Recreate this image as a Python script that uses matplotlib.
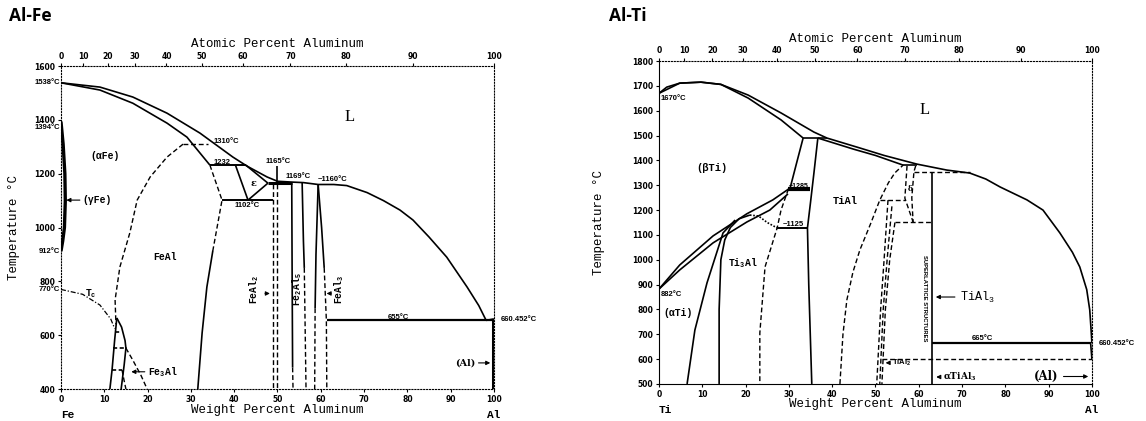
import numpy as np
import matplotlib.pyplot as plt

M_AL, M_FE, M_TI = 26.982, 55.845, 47.867

# ---- Al-Fe boundaries, (weight % Al, temperature C) ----
fe_liquidus = [(0, 1538), (9, 1522), (16.6, 1485), (24.5, 1425), (32.1, 1351), (39.7, 1262),
               (43, 1228), (47.6, 1188), (50, 1172), (53.3, 1169), (56, 1167), (59.4, 1160),
               (63, 1160), (66, 1156), (70.7, 1130), (74.5, 1100), (78.3, 1065), (81.3, 1028),
               (85, 965), (89.1, 890), (93.8, 779), (96.5, 710), (98.2, 655)]
fe_liquidus_al = [(98.2, 655), (100, 660.5)]
fe_alpha_solidus = [(0, 1538), (9, 1511), (16.6, 1462), (24.5, 1388), (29.1, 1336), (34.4, 1232)]
fe_1232 = [(34.4, 1232), (42.7, 1232)]
fe_eps_solidus = [(42.7, 1232), (47.8, 1165)]
fe_eps_left = [(40.3, 1232), (43.2, 1102)]
fe_eps_right = [(43.2, 1102), (47.8, 1165)]
fe_1165 = [(47.8, 1165), (53.3, 1165)]
fe_1165_tick = [(50.0, 1165), (50.0, 1228)]
fe_1102 = [(37.2, 1102), (48.9, 1102)]
fe_feal_dashed = [(34.4, 1232), (37.2, 1102), (35.1, 916)]
fe_feal_solid = [(35.1, 916), (33.7, 779), (32.6, 608), (31.6, 400)]
fe_feal2_a = [(48.9, 1160), (48.9, 400)]
fe_feal2_b = [(49.8, 1160), (49.8, 400)]
fe_fe2al5_left = [(53.3, 1169), (53.4, 800), (53.5, 480)]
fe_fe2al5_left_low = [(53.5, 480), (53.6, 400)]
fe_fe2al5_right = [(55.7, 1169), (56.0, 950), (56.2, 850)]
fe_fe2al5_right_low = [(56.2, 850), (56.6, 400)]
fe_feal3_left = [(59.4, 1160), (58.9, 900), (58.7, 700)]
fe_feal3_left_low = [(58.7, 700), (58.6, 400)]
fe_feal3_right = [(59.4, 1160), (60.2, 1000), (60.8, 850)]
fe_feal3_right_low = [(60.8, 850), (61.3, 655), (61.4, 400)]
fe_655 = [(61.4, 655), (100, 655)]
fe_al_solvus = [(99.9, 660), (99.9, 400)]
fe_gamma_loop = [(0, 1394), (0.5, 1310), (0.9, 1200), (1.0, 1100), (0.8, 1000), (0.4, 950), (0, 912)]
fe_b2_order = [(28.2, 1310), (24.5, 1262), (20.6, 1188), (17.6, 1102), (15.9, 980),
               (13.6, 853), (12.5, 731), (12.7, 640)]
fe_1310 = [(28.2, 1310), (34.0, 1310)]
fe_tc = [(0, 770), (5, 752), (9, 712), (11.5, 660), (12.4, 625)]
fe3al_left = [(11.3, 400), (11.8, 471), (12.4, 582), (12.9, 664)]
fe3al_right = [(12.9, 664), (14.0, 630), (14.8, 580), (15.0, 552), (14.6, 490), (13.9, 400)]
fe3al_tie_t = [612, 552, 471]
fe3al_tie_w0 = [12.5, 12.0, 11.8]
fe3al_tie_w1 = [13.9, 15.2, 14.1]
fe3al_solvus_a = [(15.0, 552), (16.5, 510), (18.5, 450), (19.9, 400)]
fe3al_solvus_b = [(14.1, 471), (14.6, 430), (15.0, 400)]

# ---- Al-Ti boundaries, (weight % Al, temperature C) ----
ti_liquidus = [(0, 1670), (1.8, 1695), (4.8, 1711), (9.7, 1715), (14.3, 1706), (20.6, 1663),
               (28.2, 1591), (35.8, 1514), (38.8, 1490), (46.4, 1450), (52, 1420), (59.6, 1385),
               (66.5, 1361), (71.8, 1349), (75.5, 1325), (78.8, 1293), (85.0, 1241), (88.7, 1200),
               (92.6, 1108), (95.5, 1030), (97.2, 971), (98.8, 880), (99.5, 798), (99.8, 720),
               (100, 665)]
ti_beta_solidus = [(0, 1670), (4.8, 1711), (9.7, 1715), (14.3, 1706), (20.6, 1651), (28.2, 1563),
                   (33.3, 1490)]
ti_1490 = [(33.3, 1490), (38.8, 1490)]
ti_tial_solidus = [(36.7, 1490), (45, 1445), (50, 1420), (56.4, 1381)]
ti_delta_top = [(56.4, 1381), (59.6, 1381)]
ti_delta_left = [(57.3, 1378), (56.8, 1248), (58.7, 1152)]
ti_delta_right = [(59.3, 1378), (58.9, 1355), (58.4, 1250), (58.7, 1152)]
ti_1350 = [(58.9, 1352), (71.8, 1352)]
ti_tial3 = [(63, 1352), (63, 500)]
ti_1240 = [(51.0, 1240), (56.8, 1240)]
ti_1150 = [(54.5, 1150), (63, 1150)]
ti_tial_right = [(41.8, 500), (42.5, 700), (43.4, 838), (44.8, 950), (46.4, 1039), (49, 1150),
                 (51.0, 1240), (53, 1310), (54.5, 1350), (56.4, 1381)]
ti_tial2_a = [(52.9, 1240), (52.0, 1000), (51.2, 800), (50.3, 500)]
ti_tial2_b = [(53.8, 1215), (52.7, 1000), (51.8, 800), (51.0, 500)]
ti_tial2_c = [(54.5, 1150), (53.3, 1000), (52.3, 800), (51.5, 500)]
ti_600 = [(51.5, 600), (100, 600)]
ti_665 = [(63, 665), (99.7, 665)]
ti_al_solvus = [(99.7, 665), (100, 600)]
ti_beta_transus = [(0, 882), (4.8, 979), (12.5, 1096), (20.3, 1185), (26.3, 1241), (30.3, 1289),
                   (31.8, 1390), (33.3, 1490)]
ti_alpha_transus = [(0, 882), (4.8, 959), (12.5, 1068), (20.3, 1152), (25.6, 1200), (29.8, 1265)]
ti_1285 = [(29.8, 1285), (34.8, 1285)]
ti_tial_left = [(36.7, 1490), (35.8, 1350), (35.0, 1230), (34.3, 1128), (34.6, 900), (35.3, 500)]
ti_1125 = [(27.3, 1128), (34.3, 1128)]
ti_alpha2_left = [(13.9, 500), (13.9, 800), (14.3, 1000), (15.2, 1080), (16.5, 1130),
                  (18.5, 1165), (21, 1180)]
ti_alpha2_top = [(21, 1180), (23, 1176), (25, 1150), (27.3, 1128)]
ti_alpha_alpha2 = [(6.5, 500), (8.3, 717), (11.1, 907), (14.8, 1108), (17.6, 1160)]
ti_alpha2_right = [(29.9, 1285), (28.2, 1200), (27.3, 1128), (24.5, 971), (23.3, 705), (23.3, 500)]

xticks = list(range(0, 101, 10))
fe_yticks = list(range(400, 1601, 200))
ti_yticks = list(range(500, 1801, 100))

DASH = (0, (3.5, 2))
MONO = 'Liberation Mono'
SANS = 'Liberation Sans'


def wt_to_at(w, m_other):
    w = np.clip(np.asarray(w, dtype=float), 0, 100)
    na = w / M_AL
    return 100 * na / (na + (100 - w) / m_other + 1e-12)


def at_to_wt(a, m_other):
    a = np.clip(np.asarray(a, dtype=float), 0, 100)
    ma = a * M_AL
    return 100 * ma / (ma + (100 - a) * m_other + 1e-12)


def draw(ax, pts, ls='-', lw=1.2):
    x, y = zip(*pts)
    ax.plot(x, y, color='black', ls=ls, lw=lw, solid_capstyle='butt')


def label(ax, x, y, s, size=6.5, **kw):
    kw.setdefault('family', MONO)
    kw.setdefault('weight', 'bold')
    ax.text(x, y, s, fontsize=size, ha=kw.pop('ha', 'center'), va=kw.pop('va', 'center'), **kw)


def arrow(ax, x0, x1, y):
    ax.annotate('', xy=(x1, y), xytext=(x0, y),
                arrowprops=dict(arrowstyle='-|>', color='black', lw=0.8, mutation_scale=6))


def setup_axes(ax, m_other, ylim, yticks, left_name, ylabel_x):
    ax.set_xlim(0, 100)
    ax.set_ylim(*ylim)
    ax.set_xticks(xticks)
    ax.set_yticks(yticks)
    ax.tick_params(direction='out', length=2, width=0.8, pad=2, labelsize=5.5)
    for t in ax.get_xticklabels() + ax.get_yticklabels():
        t.set_fontweight('bold')
    ax.spines['top'].set_visible(False)
    sec = ax.secondary_xaxis('top', functions=(lambda w: wt_to_at(w, m_other),
                                               lambda a: at_to_wt(a, m_other)))
    sec.set_xticks(xticks)
    sec.tick_params(direction='out', length=2, width=0.8, pad=2, labelsize=5.5)
    for t in sec.get_xticklabels():
        t.set_fontweight('bold')
    sec.spines['top'].set_linestyle(':')
    ax.text(0.5, 1.068, 'Atomic Percent Aluminum', transform=ax.transAxes,
            ha='center', va='center', family=MONO, fontsize=9)
    ax.set_xlabel('Weight Percent Aluminum', family=MONO, fontsize=9)
    ax.xaxis.set_label_coords(0.5, -0.045)
    ax.set_ylabel('Temperature °C', family=MONO, fontsize=9)
    ax.yaxis.set_label_coords(ylabel_x, 0.5)
    tr = ax.get_xaxis_transform()
    ax.text(1.5, -0.08, left_name, transform=tr, ha='center', va='center',
            family=MONO, weight='bold', fontsize=8)
    ax.text(100, -0.08, 'Al', transform=tr, ha='center', va='center',
            family=MONO, weight='bold', fontsize=8)


fig = plt.figure(figsize=(11.46, 4.21), dpi=100)
fig.text(0.008, 0.962, 'Al-Fe', family='Open Sans', weight='bold', fontsize=12.5, va='center')
fig.text(0.531, 0.962, 'Al-Ti', family='Open Sans', weight='bold', fontsize=12.5, va='center')

# ================= Al-Fe =================
ax1 = fig.add_axes([0.0532, 0.076, 0.3778, 0.767])
setup_axes(ax1, M_FE, (400, 1600), fe_yticks, 'Fe', -0.095)
for s in ['left', 'right', 'bottom']:
    ax1.spines[s].set_linestyle(':')

for pts in [fe_liquidus, fe_liquidus_al, fe_alpha_solidus, fe_eps_solidus, fe_eps_left,
            fe_eps_right, fe_feal_solid, fe_fe2al5_left, fe_fe2al5_right, fe_feal3_left,
            fe_feal3_right, fe3al_left, fe3al_right, fe_1165_tick]:
    draw(ax1, pts)
for pts in [fe_1232, fe_1102]:
    draw(ax1, pts, lw=1.4)
draw(ax1, fe_1165, lw=2.2)
draw(ax1, fe_655, lw=1.6)
draw(ax1, fe_al_solvus, lw=2.2)
draw(ax1, fe_gamma_loop, lw=2.4)
for pts in [fe_feal_dashed, fe_feal2_a, fe_feal2_b, fe_fe2al5_left_low, fe_fe2al5_right_low,
            fe_feal3_left_low, fe_feal3_right_low, fe_b2_order, fe_1310, fe3al_solvus_a,
            fe3al_solvus_b]:
    draw(ax1, pts, ls=DASH, lw=1.0)
draw(ax1, fe_tc, ls=(0, (4, 1.5, 1, 1.5)), lw=0.9)
for t, w0, w1 in zip(fe3al_tie_t, fe3al_tie_w0, fe3al_tie_w1):
    draw(ax1, [(w0, t), (w1, t)], ls=(0, (2.5, 1.5)), lw=1.2)

kw = dict(family=SANS, size=5.5, ha='right')
label(ax1, -0.3, 1538, '1538°C', **kw)
label(ax1, -0.3, 1372, '1394°C', **kw)
label(ax1, -0.3, 912, '912°C', **kw)
label(ax1, -0.3, 770, '770°C', **kw)
kw = dict(family=SANS, size=5.5)
label(ax1, 38.2, 1318, '1310°C', **kw)
label(ax1, 37.2, 1242, '1232', **kw)
label(ax1, 50.2, 1245, '1165°C', **kw)
label(ax1, 54.8, 1188, '1169°C', **kw)
label(ax1, 62.8, 1178, '~1160°C', **kw)
label(ax1, 42.9, 1083, '1102°C', **kw)
label(ax1, 78.0, 666, '655°C', **kw)
label(ax1, 101.5, 658, '660.452°C', ha='left', family=SANS, size=5.5)
label(ax1, 10.2, 1265, '(αFe)', size=7)
label(ax1, 24.0, 890, 'FeAl', size=7)
label(ax1, 44.5, 1162, 'ε', size=7, family='DejaVu Serif')
label(ax1, 66.7, 1410, 'L', size=12, family='Liberation Serif', weight='normal')
label(ax1, 4.9, 1102, '(γFe)', size=7, ha='left')
arrow(ax1, 5.0, 0.6, 1102)
label(ax1, 7.0, 756, 'T$_\\mathregular{c}$', size=7)
label(ax1, 20.0, 464, 'Fe$_\\mathregular{3}$Al', size=7, ha='left')
arrow(ax1, 20.0, 15.6, 464)
label(ax1, 44.5, 770, 'FeAl$_\\mathregular{2}$', size=7, rotation=90)
arrow(ax1, 46.5, 48.9, 755)
label(ax1, 54.6, 770, 'Fe$_\\mathregular{2}$Al$_\\mathregular{5}$', size=7, rotation=90)
label(ax1, 64.2, 770, 'FeAl$_\\mathregular{3}$', size=7, rotation=90)
arrow(ax1, 63.0, 60.7, 755)
label(ax1, 93.3, 497, '(Al)', size=7, family='DejaVu Serif')
arrow(ax1, 95.8, 99.8, 497)

# ================= Al-Ti =================
ax2 = fig.add_axes([0.575, 0.088, 0.3778, 0.767])
setup_axes(ax2, M_TI, (500, 1800), ti_yticks, 'Ti', -0.125)
ax2.spines['right'].set_linestyle(':')

for pts in [ti_liquidus, ti_beta_solidus, ti_1490, ti_tial_solidus, ti_delta_top, ti_tial3,
            ti_beta_transus, ti_alpha_transus, ti_tial_left, ti_alpha2_left, ti_alpha_alpha2,
            ti_al_solvus]:
    draw(ax2, pts)
draw(ax2, ti_1125, lw=1.4)
draw(ax2, ti_665, lw=1.6)
draw(ax2, ti_1285, lw=3.0)
draw(ax2, ti_alpha2_top, ls=(0, (1, 1)), lw=1.2)
for pts in [ti_delta_left, ti_delta_right, ti_1350, ti_1240, ti_1150, ti_tial_right,
            ti_tial2_a, ti_tial2_b, ti_tial2_c, ti_600, ti_alpha2_right]:
    draw(ax2, pts, ls=DASH, lw=1.0)

kw = dict(family=SANS, size=5.5, ha='left')
label(ax2, 0.4, 1648, '1670°C', **kw)
label(ax2, 0.4, 862, '882°C', **kw)
label(ax2, 101.5, 662, '660.452°C', **kw)
label(ax2, 31.0, 1142, '~1125', family=SANS, size=5.5)
label(ax2, 32.3, 1296, '~1285', family=SANS, size=5)
label(ax2, 74.6, 684, '665°C', family=SANS, size=5.5)
label(ax2, 12.3, 1369, '(βTi)', size=7.5)
label(ax2, 43.0, 1238, 'TiAl', size=7.5)
label(ax2, 19.4, 987, 'Ti$_\\mathregular{3}$Al', size=7)
label(ax2, 4.4, 786, '(αTi)', size=7)
label(ax2, 61.4, 1603, 'L', size=12, family='Liberation Serif', weight='normal')
label(ax2, 58.0, 1285, 'δ', size=5.5, family='DejaVu Serif')
label(ax2, 61.3, 846, 'SUPERLATTICE STRUCTURES', size=4.2, family=SANS, rotation=-90)
label(ax2, 69.5, 850, 'TiAl$_\\mathregular{3}$', size=8.5, ha='left', weight='normal')
arrow(ax2, 69.0, 63.3, 850)
label(ax2, 53.8, 585, 'TiAl$_\\mathregular{2}$', size=5.5, family=SANS, ha='left')
arrow(ax2, 53.6, 51.7, 585)
label(ax2, 65.6, 528, 'αTiAl$_\\mathregular{3}$', size=6.5, ha='left', family='DejaVu Serif')
arrow(ax2, 65.3, 63.4, 528)
label(ax2, 89.5, 530, '(Al)', size=8.5, family='DejaVu Serif')
arrow(ax2, 92.8, 99.8, 530)

fig.savefig('out.png', dpi=100)
